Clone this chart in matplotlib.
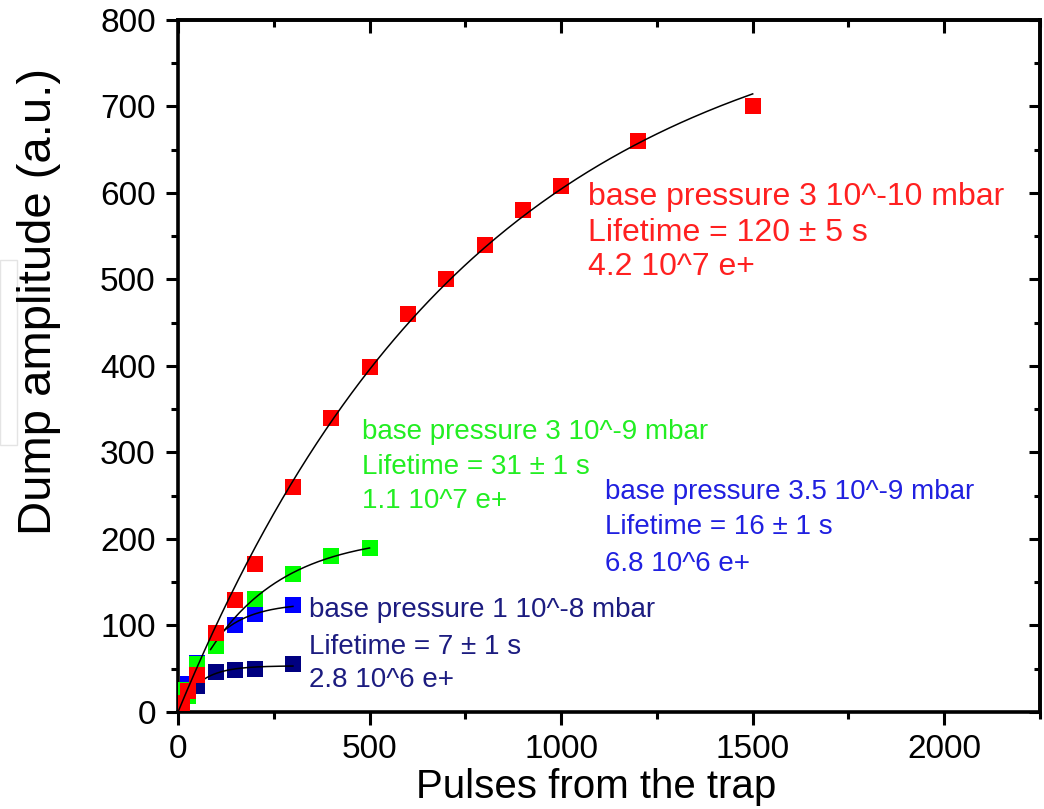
import numpy as np
import matplotlib
matplotlib.use("Agg")
from matplotlib import pyplot as plt
from matplotlib.ticker import MultipleLocator
from matplotlib.patches import Rectangle

plt.rcParams['font.family'] = ['Liberation Sans', 'DejaVu Sans']

# base pressure 1e-8 mbar (navy)
navy_x = [25, 50, 100, 150, 200, 300]
navy_y = [22, 30, 46, 48, 50, 56]
# base pressure 3.5e-9 mbar (blue)
blue_x = [25, 50, 150, 200, 300]
blue_y = [32, 57, 100, 113, 124]
# base pressure 3e-9 mbar (green)
green_x = [10, 25, 50, 100, 200, 300, 400, 500]
green_y = [26, 18, 56, 76, 131, 160, 180, 190]
# base pressure 3e-10 mbar (red)
red_x = [10, 25, 50, 100, 150, 200, 300, 400, 500, 600, 700, 800, 900, 1000, 1200, 1500]
red_y = [10, 24, 43, 91, 130, 171, 260, 340, 399, 460, 500, 540, 580, 608, 660, 700]

labels_navy = ["base pressure 1 10^-8 mbar", "Lifetime = 7 \u00b1 1 s", "2.8 10^6 e+"]
labels_blue = ["base pressure 3.5 10^-9 mbar", "Lifetime = 16 \u00b1 1 s", "6.8 10^6 e+"]
labels_green = ["base pressure 3 10^-9 mbar", "Lifetime = 31 \u00b1 1 s", "1.1 10^7 e+"]
labels_red = ["base pressure 3 10^-10 mbar", "Lifetime = 120 \u00b1 5 s", "4.2 10^7 e+"]


def exp_fit(x, y):
    # y = A (1 - exp(-x/tau)), scan tau and solve A by least squares
    x = np.asarray(x, float)
    y = np.asarray(y, float)
    best = None
    for tau in np.linspace(10, 3000, 3000):
        f = 1 - np.exp(-x / tau)
        A = np.dot(f, y) / np.dot(f, f)
        err = np.sum((y - A * f) ** 2)
        if best is None or err < best[0]:
            best = (err, A, tau)
    return best[1], best[2]


fig = plt.figure(figsize=(10.44, 8.09), dpi=100)
ax = fig.add_axes([0.1705, 0.1199, 0.8257, 0.8554])

series = [
    (navy_x, navy_y, "#000080", (60, 300), labels_navy, 342, [110, 67, 29], 20),
    (blue_x, blue_y, "#0000ff", (100, 300), labels_blue, 1114, [246, 206, 163], 20),
    (green_x, green_y, "#00ff00", (85, 500), labels_green, 481, [316, 275, 236], 20),
    (red_x, red_y, "#ff0000", (0, 1500), labels_red, 1070, [586, 545, 505], 23),
]
text_colors = {"#000080": "#1c1c80", "#0000ff": "#2020e0",
               "#00ff00": "#22ee22", "#ff0000": "#ff2020"}

z = 2
for xs, ys, col, (x0, x1), labs, tx, tys, fs in series:
    ax.plot(xs, ys, 's', color=col, ms=11, mew=0, zorder=z)
    A, tau = exp_fit(xs, ys)
    xf = np.linspace(x0, x1, 200)
    ax.plot(xf, A * (1 - np.exp(-xf / tau)), color='black', lw=1.1, zorder=z + 0.5)
    for lab, ty in zip(labs, tys):
        ax.text(tx, ty, lab, color=text_colors[col], fontsize=fs,
                ha='left', va='baseline', zorder=10)
    z += 1

ax.set_xlim(0, 2250)
ax.set_ylim(0, 800)
ax.xaxis.set_major_locator(MultipleLocator(500))
ax.xaxis.set_minor_locator(MultipleLocator(250))
ax.yaxis.set_major_locator(MultipleLocator(100))
ax.yaxis.set_minor_locator(MultipleLocator(50))

for s in ax.spines.values():
    s.set_linewidth(2.6)
ax.tick_params(which='major', direction='out', length=9, width=2.2,
               labelsize=24, pad=7)
ax.tick_params(which='minor', direction='out', length=5, width=2.2)

top = ax.secondary_xaxis('top')
top.xaxis.set_major_locator(MultipleLocator(500))
top.xaxis.set_minor_locator(MultipleLocator(250))
top.tick_params(which='major', direction='in', length=9, width=2.2, labeltop=False)
top.tick_params(which='minor', direction='in', length=5, width=2.2)
top.spines['top'].set_linewidth(2.6)

right = ax.secondary_yaxis('right')
right.yaxis.set_major_locator(MultipleLocator(100))
right.yaxis.set_minor_locator(MultipleLocator(50))
right.tick_params(which='major', direction='in', length=8, width=2.2, labelright=False)
right.tick_params(which='minor', direction='in', length=4, width=2.2)
right.spines['right'].set_linewidth(2.6)

fig.text(0.571, 0.027, "Pulses from the trap", fontsize=29, ha='center', va='center')
fig.text(0.037, 0.627, "Dump amplitude (a.u.)", fontsize=34, rotation=90,
         ha='center', va='center')

# faint box left of the y label in the source image
fig.patches.append(Rectangle((0.0, 1 - 445 / 809), 17 / 1044, 185 / 809,
                             transform=fig.transFigure, fill=False,
                             ec='#e4e4e4', lw=1))

fig.savefig("out.png", dpi=100)
